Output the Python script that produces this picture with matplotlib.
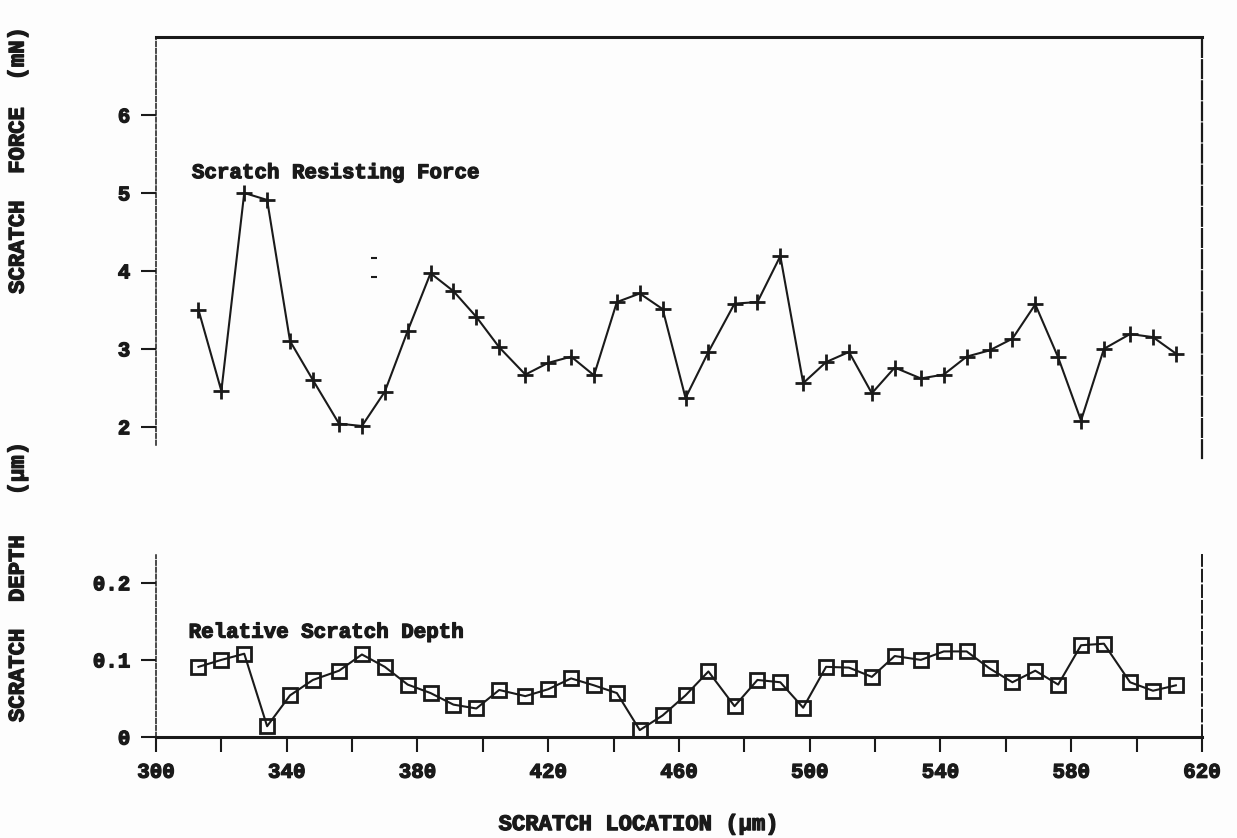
import matplotlib.pyplot as plt
import matplotlib.patheffects as pe

# scratch test along the track: location (um), resisting force (mN), relative depth (um)
location = [313, 320, 327, 334, 341, 348, 356, 363, 370, 377, 384, 391, 398, 405,
            413, 420, 427, 434, 441, 448, 455, 462, 469, 477, 484, 491, 498, 505,
            512, 519, 526, 534, 541, 548, 555, 562, 569, 576, 583, 590, 598, 605, 612]

force = [3.50, 2.46, 5.00, 4.91, 3.10, 2.60, 2.04, 2.01, 2.45, 3.23, 3.97, 3.74,
         3.41, 3.02, 2.67, 2.82, 2.90, 2.66, 3.60, 3.71, 3.51, 2.37, 2.96, 3.58,
         3.60, 4.19, 2.56, 2.83, 2.96, 2.43, 2.76, 2.62, 2.67, 2.90, 2.98, 3.13,
         3.57, 2.89, 2.08, 3.00, 3.19, 3.15, 2.94]

depth = [0.091, 0.100, 0.108, 0.014, 0.054, 0.074, 0.086, 0.107, 0.091, 0.068,
         0.057, 0.042, 0.037, 0.061, 0.053, 0.062, 0.076, 0.067, 0.057, 0.009,
         0.028, 0.054, 0.085, 0.040, 0.074, 0.071, 0.038, 0.091, 0.090, 0.078,
         0.105, 0.100, 0.111, 0.111, 0.089, 0.071, 0.086, 0.068, 0.119, 0.121,
         0.071, 0.060, 0.067]

force_ticks = [2, 3, 4, 5, 6]
depth_ticks = [0, 0.1, 0.2]
depth_ticklabels = ['0', '0.1', '0.2']
x_ticks = [300, 320, 340, 360, 380, 400, 420, 440, 460, 480, 500, 520, 540, 560, 580, 600, 620]
x_ticklabels = ['300', '', '340', '', '380', '', '420', '', '460', '', '500', '', '540', '', '580', '', '620']

# two little specks left on the force panel
speck_x = [366.8, 366.8]
speck_y = [4.16, 3.92]

plt.rcParams['font.family'] = 'Liberation Mono'
plt.rcParams['font.weight'] = 'bold'
ink = '#1a1a1a'
heavy = [pe.withStroke(linewidth=0.9, foreground=ink)]

fig = plt.figure(figsize=(12.37, 8.38), dpi=100, facecolor='#fdfdfd')
ax1 = fig.add_axes([0.1261, 0.4535, 0.8456, 0.5023])
ax2 = fig.add_axes([0.1261, 0.1205, 0.8456, 0.2172])

for ax in (ax1, ax2):
    ax.set_facecolor('none')
    ax.set_xlim(300, 620)
    ax.tick_params(axis='both', direction='out', length=10.5, width=1.5, color=ink,
                   labelsize=15, labelcolor=ink, pad=8)

# top panel: resisting force
ax1.plot(location, force, color=ink, lw=1.5, marker='+', ms=12, mew=2.0)
ax1.plot(speck_x, speck_y, ls='none', marker='_', ms=4, mew=1.5, color=ink)
ax1.set_ylim(1.6, 7)
ax1.set_yticks(force_ticks)
ax1.set_xticks([])
ax1.spines['bottom'].set_visible(False)
ax1.spines['top'].set_linewidth(2.2)
ax1.spines['left'].set_linewidth(1.1)
ax1.spines['left'].set_linestyle((0, (3, 1.5)))
ax1.spines['left'].set_bounds(1.77, 7)
ax1.spines['right'].set_linewidth(1.6)
ax1.spines['right'].set_linestyle((0, (8, 1.5)))
for s in ax1.spines.values():
    s.set_color(ink)
ax1.text(311, 5.26, 'Scratch Resisting Force', fontsize=15, color=ink,
         va='center', ha='left', path_effects=heavy)

# bottom panel: relative depth
ax2.plot(location, depth, color=ink, lw=1.5, marker='s', ms=10, mew=2.0, mfc='none')
ax2.set_ylim(0, 0.236)
ax2.set_yticks(depth_ticks)
ax2.set_yticklabels(depth_ticklabels)
ax2.set_xticks(x_ticks)
ax2.set_xticklabels(x_ticklabels)
ax2.spines['top'].set_visible(False)
ax2.spines['bottom'].set_linewidth(2.2)
ax2.spines['left'].set_linewidth(1.1)
ax2.spines['left'].set_linestyle((0, (3, 1.5)))
ax2.spines['right'].set_linewidth(1.4)
ax2.spines['right'].set_linestyle((0, (6, 2)))
for s in ax2.spines.values():
    s.set_color(ink)
ax2.text(310, 0.136, 'Relative Scratch Depth', fontsize=15, color=ink,
         va='center', ha='left', path_effects=heavy)

for ax in (ax1, ax2):
    for lbl in ax.get_xticklabels() + ax.get_yticklabels():
        lbl.set_path_effects(heavy)

fig.text(0.0146, 0.809, 'SCRATCH  FORCE  (mN)', rotation=90, fontsize=16, color=ink,
         ha='center', va='center', path_effects=heavy)
fig.text(0.0146, 0.306, 'SCRATCH  DEPTH   (\u00b5m)', rotation=90, fontsize=16, color=ink,
         ha='center', va='center', path_effects=heavy)
fig.text(0.5166, 0.016, 'SCRATCH LOCATION (\u00b5m)', fontsize=16, color=ink,
         ha='center', va='center', path_effects=heavy)

fig.savefig('out.png', dpi=100, facecolor=fig.get_facecolor())
